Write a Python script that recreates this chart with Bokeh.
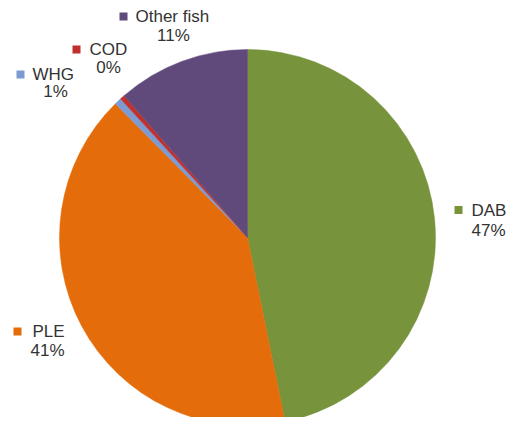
import math
from bokeh.plotting import figure
from bokeh.models import Range1d, ColumnDataSource
from bokeh.core.properties import value
from bokeh.embed import file_html
from bokeh.resources import INLINE

# ---- data ----
species = ["DAB", "PLE", "WHG", "COD", "Other fish"]
shares = [46.8, 40.8, 0.6, 0.4, 11.4]
colors = ["#77933C", "#E46C0A", "#7B9BD2", "#C0302D", "#604A7B"]

# ---- layout (picture pixel coords) ----
W, H = 508, 417
PAGE_H = 425
CX, CY, R = 247, 237, 188
# label layout: (square x, name text left x, name middle y, percent center x, percent middle y)
label_pos = [
    (458, 471, 209.5, 488, 230),
    (17, 32, 331, 47, 350),
    (20, 32, 74, 55, 91),
    (76, 89, 49, 108, 67),
    (123, 135, 16, 173, 35),
]

def fy(py):
    return PAGE_H - py

p = figure(width=W, height=H, output_backend="svg", toolbar_location=None,
           x_range=Range1d(0, W), y_range=Range1d(PAGE_H - H, PAGE_H),
           min_border=0, outline_line_color=None)
p.axis.visible = False
p.grid.visible = False
p.background_fill_color = "white"

total = sum(shares)
starts, ends = [], []
cum = 0.0
for s in shares:
    a0 = math.pi / 2 - 2 * math.pi * cum / total
    cum += s
    a1 = math.pi / 2 - 2 * math.pi * cum / total
    starts.append(a0)
    ends.append(a1)

src = ColumnDataSource(dict(start=starts, end=ends, color=colors, name=species))
p.wedge(x=CX, y=fy(CY), radius=R, start_angle="start", end_angle="end",
        direction="clock", fill_color="color", line_color="color", line_width=0.5,
        source=src)

font = value("Liberation Sans")
for i, name in enumerate(species):
    sqx, tx, ty, pcx, pcy = label_pos[i]
    p.scatter([sqx], [fy(ty)], marker="square", size=8, fill_color=colors[i], line_color=None)
    p.text([tx], [fy(ty)], text=[name], text_font=font, text_font_size="17px",
           text_color="#333333", text_align="left", text_baseline="middle")
    p.text([pcx], [fy(pcy)], text=[f"{round(shares[i])}%"], text_font=font,
           text_font_size="17px", text_color="#333333", text_align="center",
           text_baseline="middle")

open("out.html", "w").write(file_html(p, INLINE))
